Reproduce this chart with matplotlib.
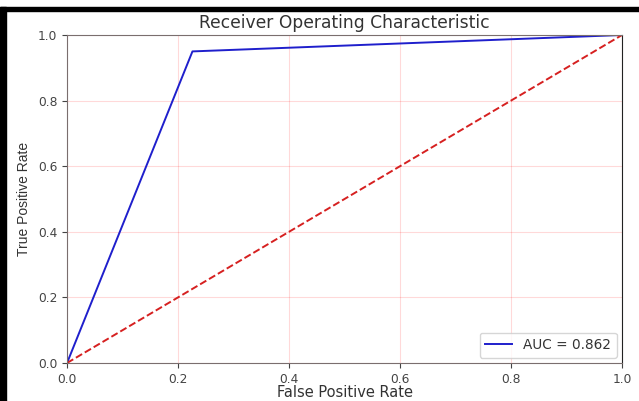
import matplotlib.pyplot as plt
from matplotlib.patches import Rectangle

fpr = [0.0, 0.226, 1.0]
tpr = [0.0, 0.95, 1.0]
chance = [0.0, 1.0]
auc_label = 'AUC = 0.862'
ticks = [0.0, 0.2, 0.4, 0.6, 0.8, 1.0]

fig = plt.figure(figsize=(6.39, 4.01), dpi=100)
ax = fig.add_axes([0.1049, 0.0948, 0.8685, 0.8179])

ax.plot(fpr, tpr, color='#1f1fcc', linewidth=1.4, label=auc_label)
ax.plot(chance, chance, color='#d62020', linestyle='--', linewidth=1.4)

ax.set_xlim(0, 1)
ax.set_ylim(0, 1)
ax.set_xticks(ticks)
ax.set_yticks(ticks)
ax.tick_params(labelsize=8.8, colors='#444444', length=3.5)
ax.grid(True, color='red', alpha=0.15, linewidth=0.8)

ax.set_title('Receiver Operating Characteristic', fontsize=12.3, color='#333333', pad=5)
ax.set_xlabel('False Positive Rate', fontsize=10.5, color='#333333', labelpad=-0.5)
ax.set_ylabel('True Positive Rate', fontsize=10, color='#333333', labelpad=5,
              family='Liberation Sans')

for side in ['left', 'top', 'bottom']:
    ax.spines[side].set_color('#7a6e6e')
ax.spines['right'].set_color('#222222')

ax.legend(loc='lower right', fontsize=9.8, frameon=True, borderaxespad=0.4,
          labelcolor='#333333')

# black frame pieces around the screenshot
fig.patches.append(Rectangle((0, 1 - 11 / 401), 1, 4 / 401, transform=fig.transFigure,
                             color='black', zorder=10))
fig.patches.append(Rectangle((0, 0), 6 / 639, 1 - 7 / 401, transform=fig.transFigure,
                             color='black', zorder=10))

fig.savefig('out.png', dpi=100)
